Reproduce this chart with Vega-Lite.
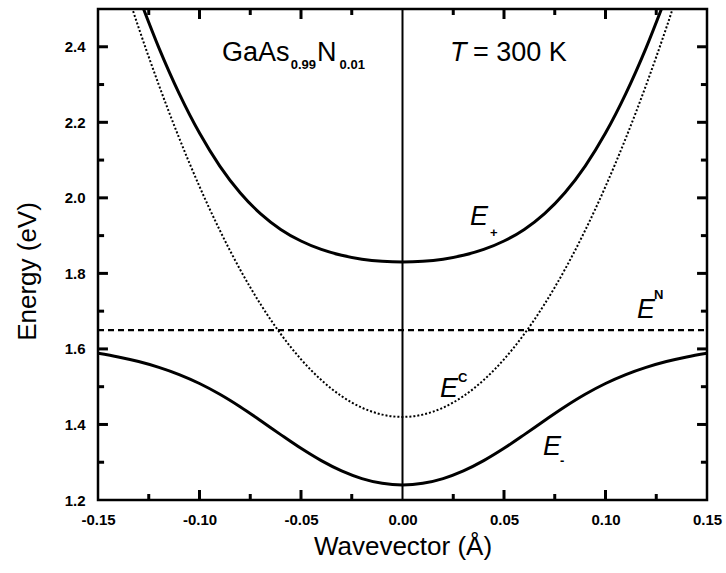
{
  "$schema": "https://vega.github.io/schema/vega-lite/v6.json",
  "width": 609,
  "height": 491,
  "autosize": {"type": "none"},
  "padding": {"left": 98, "top": 9, "right": 19, "bottom": 73},
  "background": "white",
  "config": {
    "view": {"stroke": "black", "strokeWidth": 2.5},
    "axis": {"grid": false, "domain": false, "ticks": false, "labelFlush": false, "labelFont": "Liberation Sans", "labelFontWeight": "bold", "labelFontSize": 15, "labelColor": "black", "titleFont": "Liberation Sans", "titleFontWeight": "normal", "titleFontSize": 26, "titleColor": "black"}
  },
  "datasets": {
    "bands": [
      {"k": -0.13, "E": 2.5344, "band": "E+"}, {"k": -0.12, "E": 2.3972, "band": "E+"}, {"k": -0.11, "E": 2.2760, "band": "E+"}, {"k": -0.10, "E": 2.1715, "band": "E+"}, {"k": -0.09, "E": 2.0841, "band": "E+"}, {"k": -0.08, "E": 2.0135, "band": "E+"}, {"k": -0.07, "E": 1.9583, "band": "E+"}, {"k": -0.06, "E": 1.9165, "band": "E+"}, {"k": -0.05, "E": 1.8857, "band": "E+"}, {"k": -0.04, "E": 1.8634, "band": "E+"}, {"k": -0.03, "E": 1.8479, "band": "E+"}, {"k": -0.02, "E": 1.8377, "band": "E+"}, {"k": -0.01, "E": 1.8319, "band": "E+"}, {"k": 0.0, "E": 1.8300, "band": "E+"}, {"k": 0.01, "E": 1.8319, "band": "E+"}, {"k": 0.02, "E": 1.8377, "band": "E+"}, {"k": 0.03, "E": 1.8479, "band": "E+"}, {"k": 0.04, "E": 1.8634, "band": "E+"}, {"k": 0.05, "E": 1.8857, "band": "E+"}, {"k": 0.06, "E": 1.9165, "band": "E+"}, {"k": 0.07, "E": 1.9583, "band": "E+"}, {"k": 0.08, "E": 2.0135, "band": "E+"}, {"k": 0.09, "E": 2.0841, "band": "E+"}, {"k": 0.10, "E": 2.1715, "band": "E+"}, {"k": 0.11, "E": 2.2760, "band": "E+"}, {"k": 0.12, "E": 2.3972, "band": "E+"}, {"k": 0.13, "E": 2.5344, "band": "E+"},
      {"k": -0.15, "E": 1.5887, "band": "E-"}, {"k": -0.14, "E": 1.5788, "band": "E-"}, {"k": -0.13, "E": 1.5666, "band": "E-"}, {"k": -0.12, "E": 1.5512, "band": "E-"}, {"k": -0.11, "E": 1.5321, "band": "E-"}, {"k": -0.10, "E": 1.5085, "band": "E-"}, {"k": -0.09, "E": 1.4800, "band": "E-"}, {"k": -0.08, "E": 1.4470, "band": "E-"}, {"k": -0.07, "E": 1.4106, "band": "E-"}, {"k": -0.06, "E": 1.3731, "band": "E-"}, {"k": -0.05, "E": 1.3368, "band": "E-"}, {"k": -0.04, "E": 1.3042, "band": "E-"}, {"k": -0.03, "E": 1.2770, "band": "E-"}, {"k": -0.02, "E": 1.2567, "band": "E-"}, {"k": -0.01, "E": 1.2442, "band": "E-"}, {"k": 0.0, "E": 1.2400, "band": "E-"}, {"k": 0.01, "E": 1.2442, "band": "E-"}, {"k": 0.02, "E": 1.2567, "band": "E-"}, {"k": 0.03, "E": 1.2770, "band": "E-"}, {"k": 0.04, "E": 1.3042, "band": "E-"}, {"k": 0.05, "E": 1.3368, "band": "E-"}, {"k": 0.06, "E": 1.3731, "band": "E-"}, {"k": 0.07, "E": 1.4106, "band": "E-"}, {"k": 0.08, "E": 1.4470, "band": "E-"}, {"k": 0.09, "E": 1.4800, "band": "E-"}, {"k": 0.10, "E": 1.5085, "band": "E-"}, {"k": 0.11, "E": 1.5321, "band": "E-"}, {"k": 0.12, "E": 1.5512, "band": "E-"}, {"k": 0.13, "E": 1.5666, "band": "E-"}, {"k": 0.14, "E": 1.5788, "band": "E-"}, {"k": 0.15, "E": 1.5887, "band": "E-"}
    ],
    "ec": [
      {"k": -0.14, "E": 2.6156}, {"k": -0.13, "E": 2.4509}, {"k": -0.12, "E": 2.2984}, {"k": -0.11, "E": 2.1581}, {"k": -0.10, "E": 2.0300}, {"k": -0.09, "E": 1.9141}, {"k": -0.08, "E": 1.8104}, {"k": -0.07, "E": 1.7189}, {"k": -0.06, "E": 1.6396}, {"k": -0.05, "E": 1.5725}, {"k": -0.04, "E": 1.5176}, {"k": -0.03, "E": 1.4749}, {"k": -0.02, "E": 1.4444}, {"k": -0.01, "E": 1.4261}, {"k": 0.0, "E": 1.4200}, {"k": 0.01, "E": 1.4261}, {"k": 0.02, "E": 1.4444}, {"k": 0.03, "E": 1.4749}, {"k": 0.04, "E": 1.5176}, {"k": 0.05, "E": 1.5725}, {"k": 0.06, "E": 1.6396}, {"k": 0.07, "E": 1.7189}, {"k": 0.08, "E": 1.8104}, {"k": 0.09, "E": 1.9141}, {"k": 0.10, "E": 2.0300}, {"k": 0.11, "E": 2.1581}, {"k": 0.12, "E": 2.2984}, {"k": 0.13, "E": 2.4509}, {"k": 0.14, "E": 2.6156}
    ],
    "en": [{"k": -0.15, "E": 1.65}, {"k": 0.15, "E": 1.65}],
    "zero": [{"k": 0.0, "E": 1.2}, {"k": 0.0, "E": 2.5}],
    "ticks": [
      {"id": "xb1", "k": -0.1, "E": 1.2}, {"id": "xb1", "k": -0.1, "E": 1.2265},
      {"id": "xb2", "k": -0.05, "E": 1.2}, {"id": "xb2", "k": -0.05, "E": 1.2265},
      {"id": "xb3", "k": 0.05, "E": 1.2}, {"id": "xb3", "k": 0.05, "E": 1.2265},
      {"id": "xb4", "k": 0.1, "E": 1.2}, {"id": "xb4", "k": 0.1, "E": 1.2265},
      {"id": "xt1", "k": -0.1, "E": 2.5}, {"id": "xt1", "k": -0.1, "E": 2.4735},
      {"id": "xt2", "k": -0.05, "E": 2.5}, {"id": "xt2", "k": -0.05, "E": 2.4735},
      {"id": "xt3", "k": 0.05, "E": 2.5}, {"id": "xt3", "k": 0.05, "E": 2.4735},
      {"id": "xt4", "k": 0.1, "E": 2.5}, {"id": "xt4", "k": 0.1, "E": 2.4735},
      {"id": "mb1", "k": -0.125, "E": 1.2}, {"id": "mb1", "k": -0.125, "E": 1.2159},
      {"id": "mb2", "k": -0.075, "E": 1.2}, {"id": "mb2", "k": -0.075, "E": 1.2159},
      {"id": "mb3", "k": -0.025, "E": 1.2}, {"id": "mb3", "k": -0.025, "E": 1.2159},
      {"id": "mb4", "k": 0.025, "E": 1.2}, {"id": "mb4", "k": 0.025, "E": 1.2159},
      {"id": "mb5", "k": 0.075, "E": 1.2}, {"id": "mb5", "k": 0.075, "E": 1.2159},
      {"id": "mb6", "k": 0.125, "E": 1.2}, {"id": "mb6", "k": 0.125, "E": 1.2159},
      {"id": "mt1", "k": -0.125, "E": 2.5}, {"id": "mt1", "k": -0.125, "E": 2.4841},
      {"id": "mt2", "k": -0.075, "E": 2.5}, {"id": "mt2", "k": -0.075, "E": 2.4841},
      {"id": "mt3", "k": -0.025, "E": 2.5}, {"id": "mt3", "k": -0.025, "E": 2.4841},
      {"id": "mt4", "k": 0.025, "E": 2.5}, {"id": "mt4", "k": 0.025, "E": 2.4841},
      {"id": "mt5", "k": 0.075, "E": 2.5}, {"id": "mt5", "k": 0.075, "E": 2.4841},
      {"id": "mt6", "k": 0.125, "E": 2.5}, {"id": "mt6", "k": 0.125, "E": 2.4841},
      {"id": "yl1", "k": -0.15, "E": 1.4}, {"id": "yl1", "k": -0.1451, "E": 1.4},
      {"id": "yl2", "k": -0.15, "E": 1.6}, {"id": "yl2", "k": -0.1451, "E": 1.6},
      {"id": "yl3", "k": -0.15, "E": 1.8}, {"id": "yl3", "k": -0.1451, "E": 1.8},
      {"id": "yl4", "k": -0.15, "E": 2.0}, {"id": "yl4", "k": -0.1451, "E": 2.0},
      {"id": "yl5", "k": -0.15, "E": 2.2}, {"id": "yl5", "k": -0.1451, "E": 2.2},
      {"id": "yl6", "k": -0.15, "E": 2.4}, {"id": "yl6", "k": -0.1451, "E": 2.4},
      {"id": "yr1", "k": 0.15, "E": 1.4}, {"id": "yr1", "k": 0.1451, "E": 1.4},
      {"id": "yr2", "k": 0.15, "E": 1.6}, {"id": "yr2", "k": 0.1451, "E": 1.6},
      {"id": "yr3", "k": 0.15, "E": 1.8}, {"id": "yr3", "k": 0.1451, "E": 1.8},
      {"id": "yr4", "k": 0.15, "E": 2.0}, {"id": "yr4", "k": 0.1451, "E": 2.0},
      {"id": "yr5", "k": 0.15, "E": 2.2}, {"id": "yr5", "k": 0.1451, "E": 2.2},
      {"id": "yr6", "k": 0.15, "E": 2.4}, {"id": "yr6", "k": 0.1451, "E": 2.4},
      {"id": "nl1", "k": -0.15, "E": 1.3}, {"id": "nl1", "k": -0.1470, "E": 1.3},
      {"id": "nl2", "k": -0.15, "E": 1.5}, {"id": "nl2", "k": -0.1470, "E": 1.5},
      {"id": "nl3", "k": -0.15, "E": 1.7}, {"id": "nl3", "k": -0.1470, "E": 1.7},
      {"id": "nl4", "k": -0.15, "E": 1.9}, {"id": "nl4", "k": -0.1470, "E": 1.9},
      {"id": "nl5", "k": -0.15, "E": 2.1}, {"id": "nl5", "k": -0.1470, "E": 2.1},
      {"id": "nl6", "k": -0.15, "E": 2.3}, {"id": "nl6", "k": -0.1470, "E": 2.3},
      {"id": "nr1", "k": 0.15, "E": 1.3}, {"id": "nr1", "k": 0.1470, "E": 1.3},
      {"id": "nr2", "k": 0.15, "E": 1.5}, {"id": "nr2", "k": 0.1470, "E": 1.5},
      {"id": "nr3", "k": 0.15, "E": 1.7}, {"id": "nr3", "k": 0.1470, "E": 1.7},
      {"id": "nr4", "k": 0.15, "E": 1.9}, {"id": "nr4", "k": 0.1470, "E": 1.9},
      {"id": "nr5", "k": 0.15, "E": 2.1}, {"id": "nr5", "k": 0.1470, "E": 2.1},
      {"id": "nr6", "k": 0.15, "E": 2.3}, {"id": "nr6", "k": 0.1470, "E": 2.3}
    ],
    "textRegular": [
      {"k": -0.0889, "E": 2.3623, "t": "GaAs"},
      {"k": -0.0421, "E": 2.3623, "t": "N"},
      {"k": 0.0347, "E": 2.3623, "t": "= 300 K"}
    ],
    "textItalic": [
      {"k": 0.0234, "E": 2.3623, "t": "T"},
      {"k": 0.0333, "E": 1.9278, "t": "E"},
      {"k": 0.0692, "E": 1.3185, "t": "E"},
      {"k": 0.0185, "E": 1.4722, "t": "E"},
      {"k": 0.1155, "E": 1.6815, "t": "E"}
    ],
    "textSmall": [
      {"k": -0.0551, "E": 2.3411, "t": "0.99"},
      {"k": -0.0310, "E": 2.3411, "t": "0.01"},
      {"k": 0.0431, "E": 1.8960, "t": "+"},
      {"k": 0.0776, "E": 1.2921, "t": "-"},
      {"k": 0.0273, "E": 1.5119, "t": "C"},
      {"k": 0.1239, "E": 1.7318, "t": "N"}
    ]
  },
  "layer": [
    {
      "data": {"name": "bands"},
      "mark": {"type": "line", "color": "black", "strokeWidth": 3, "interpolate": "monotone", "clip": true},
      "encoding": {
        "x": {"field": "k", "type": "quantitative", "scale": {"domain": [-0.15, 0.15], "nice": false, "zero": false},
          "axis": {"orient": "bottom", "values": [-0.15, -0.1, -0.05, 0, 0.05, 0.1, 0.15], "labelExpr": "replace(format(datum.value, '.2f'), '\u2212', '-')", "labelPadding": 12, "title": "Wavevector (Å)", "titlePadding": 6}},
        "y": {"field": "E", "type": "quantitative", "scale": {"domain": [1.2, 2.5], "nice": false, "zero": false},
          "axis": {"orient": "left", "values": [1.2, 1.4, 1.6, 1.8, 2.0, 2.2, 2.4], "format": ".1f", "labelPadding": 13, "title": "Energy (eV)", "titlePadding": 24, "titleY": 262}},
        "detail": {"field": "band"}
      }
    },
    {
      "data": {"name": "ec"},
      "mark": {"type": "line", "color": "black", "strokeWidth": 2, "strokeDash": [2, 2], "interpolate": "monotone", "clip": true},
      "encoding": {
        "x": {"field": "k", "type": "quantitative"},
        "y": {"field": "E", "type": "quantitative"}
      }
    },
    {
      "data": {"name": "en"},
      "mark": {"type": "line", "color": "black", "strokeWidth": 2.2, "strokeDash": [6, 4]},
      "encoding": {
        "x": {"field": "k", "type": "quantitative"},
        "y": {"field": "E", "type": "quantitative"}
      }
    },
    {
      "data": {"name": "zero"},
      "mark": {"type": "line", "color": "black", "strokeWidth": 2},
      "encoding": {
        "x": {"field": "k", "type": "quantitative"},
        "y": {"field": "E", "type": "quantitative"}
      }
    },
    {
      "data": {"name": "ticks"},
      "mark": {"type": "line", "color": "black", "strokeWidth": 3},
      "encoding": {
        "x": {"field": "k", "type": "quantitative"},
        "y": {"field": "E", "type": "quantitative"},
        "detail": {"field": "id"}
      }
    },
    {
      "data": {"name": "textRegular"},
      "mark": {"type": "text", "align": "left", "baseline": "alphabetic", "font": "Liberation Sans", "fontSize": 27, "color": "black"},
      "encoding": {
        "x": {"field": "k", "type": "quantitative"},
        "y": {"field": "E", "type": "quantitative"},
        "text": {"field": "t"}
      }
    },
    {
      "data": {"name": "textItalic"},
      "mark": {"type": "text", "align": "left", "baseline": "alphabetic", "font": "Liberation Sans", "fontSize": 27, "fontStyle": "italic", "color": "black"},
      "encoding": {
        "x": {"field": "k", "type": "quantitative"},
        "y": {"field": "E", "type": "quantitative"},
        "text": {"field": "t"}
      }
    },
    {
      "data": {"name": "textSmall"},
      "mark": {"type": "text", "align": "left", "baseline": "alphabetic", "font": "Liberation Sans", "fontSize": 13, "fontWeight": "bold", "color": "black"},
      "encoding": {
        "x": {"field": "k", "type": "quantitative"},
        "y": {"field": "E", "type": "quantitative"},
        "text": {"field": "t"}
      }
    }
  ]
}
